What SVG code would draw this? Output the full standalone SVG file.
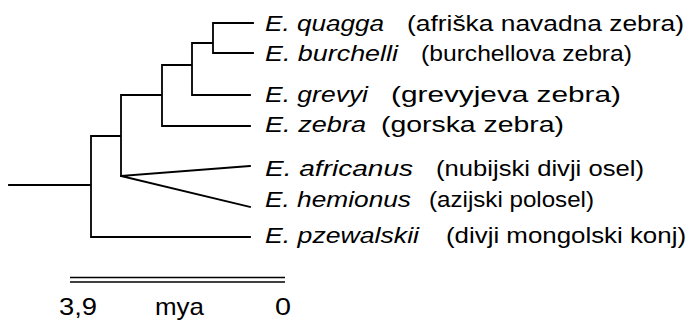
<svg xmlns="http://www.w3.org/2000/svg" width="689" height="320" viewBox="0 0 689 320">
<style>
.br{fill:none;stroke:#000;stroke-width:1.8;stroke-linecap:square}
.sp{font-family:"Liberation Sans",Arial,sans-serif;font-size:21.5px;font-style:italic;fill:#000}
.cn{font-family:"Liberation Sans",Arial,sans-serif;font-size:21.5px;fill:#000}
.sc{font-family:"Liberation Sans",Arial,sans-serif;font-size:24px;fill:#000}
.bar{stroke:#000;stroke-width:1.5}
</style>
<rect width="689" height="320" fill="#fff"/>
<g id="connectors">
<path class="br" d="M9 185H91M91 136V237H250M91 136H121M121 95V176M121 95H162M162 65V126H250M162 65H192M192 43V95H250M192 43H213M213 23V53M213 23H253M213 53H253"/>
<path class="br" d="M121 176L250 166M121 176L250 207"/>
</g>
<g id="quagga"><text class="sp" x="265" y="31" textLength="119" lengthAdjust="spacingAndGlyphs">E. quagga</text><text class="cn" x="407" y="31" textLength="277" lengthAdjust="spacingAndGlyphs">(afriška navadna zebra)</text></g>
<g id="burchelli"><text class="sp" x="265" y="61" textLength="133" lengthAdjust="spacingAndGlyphs">E. burchelli</text><text class="cn" x="421" y="61" textLength="211" lengthAdjust="spacingAndGlyphs">(burchellova zebra)</text></g>
<g id="grevyi"><text class="sp" x="265" y="102" textLength="103" lengthAdjust="spacingAndGlyphs">E. grevyi</text><text class="cn" x="391" y="102" textLength="230" lengthAdjust="spacingAndGlyphs">(grevyjeva zebra)</text></g>
<g id="zebra"><text class="sp" x="265" y="132" textLength="101" lengthAdjust="spacingAndGlyphs">E. zebra</text><text class="cn" x="381" y="132" textLength="183" lengthAdjust="spacingAndGlyphs">(gorska zebra)</text></g>
<g id="africanus"><text class="sp" x="265" y="176" textLength="148" lengthAdjust="spacingAndGlyphs">E. africanus</text><text class="cn" x="436" y="176" textLength="208" lengthAdjust="spacingAndGlyphs">(nubijski divji osel)</text></g>
<g id="hemionus"><text class="sp" x="265" y="207" textLength="146" lengthAdjust="spacingAndGlyphs">E. hemionus</text><text class="cn" x="429" y="207" textLength="165" lengthAdjust="spacingAndGlyphs">(azijski polosel)</text></g>
<g id="pzewalskii"><text class="sp" x="265" y="243" textLength="154" lengthAdjust="spacingAndGlyphs">E. pzewalskii</text><text class="cn" x="446" y="243" textLength="240" lengthAdjust="spacingAndGlyphs">(divji mongolski konj)</text></g>
<g id="scale">
<line class="bar" x1="70" y1="277.5" x2="285" y2="277.5"/>
<line class="bar" x1="70" y1="282" x2="285" y2="282"/>
<text class="sc" x="59" y="315" textLength="38" lengthAdjust="spacingAndGlyphs">3,9</text>
<text class="sc" x="155" y="315" textLength="49" lengthAdjust="spacingAndGlyphs">mya</text>
<text class="sc" x="275" y="315" textLength="16" lengthAdjust="spacingAndGlyphs">0</text>
</g>
</svg>
